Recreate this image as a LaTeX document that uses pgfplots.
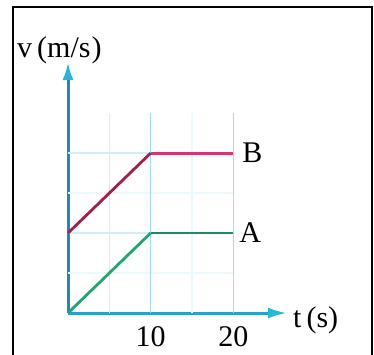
\documentclass[border=0pt]{standalone}
\usepackage{pgfplots}
\pgfplotsset{compat=1.18}
\usepackage{fontspec}
\setmainfont{Liberation Serif}
\usetikzlibrary{arrows.meta}

\definecolor{yaxiscol}{RGB}{35,135,178}
\definecolor{xaxiscol}{RGB}{40,160,212}
\definecolor{tipcol}{RGB}{38,182,214}
\definecolor{gridstrong}{RGB}{160,222,240}
\definecolor{gridlight}{RGB}{208,238,247}
\definecolor{gridfaint}{RGB}{236,248,252}
\definecolor{Brise}{RGB}{165,30,75}
\definecolor{Bflat}{RGB}{215,50,115}
\definecolor{Arise}{RGB}{30,168,112}
\definecolor{Aflat}{RGB}{28,138,100}

\newcommand{\labfont}{\fontsize{30}{34}\selectfont}

\begin{document}
\begin{tikzpicture}
\useasboundingbox (0pt,0pt) rectangle (374pt,354pt);
% frame
\draw[line width=1.6pt] (13pt,-10pt) -- (13pt,347pt) -- (372pt,347pt) -- (372pt,-10pt);
\begin{axis}[
  at={(68pt,41pt)}, anchor=south west,
  scale only axis, width=219pt, height=251pt,
  xmin=0, xmax=26.5, ymin=0, ymax=31.4,
  axis lines=left,
  axis line style={line width=3pt},
  x axis line style={draw=xaxiscol, -{Latex[length=19pt,width=11pt,fill=tipcol,color=tipcol]}},
  y axis line style={draw=yaxiscol, -{Latex[length=18pt,width=11pt,fill=tipcol,color=tipcol]}},
  xtick={10,20}, ytick=\empty,
  major tick length=0pt,
  /pgf/number format/assume math mode=true,
  xticklabel style={font=\labfont, inner sep=0pt, yshift=-13pt},
  clip=false,
]
% grid
\addplot[gridfaint, line width=1.2pt] coordinates {(15,0) (15,25)};
\addplot[gridfaint, line width=1.2pt] coordinates {(0,5) (20,5)};
\addplot[gridfaint, line width=1.2pt] coordinates {(0,15) (20,15)};
\addplot[gridlight, line width=1.4pt] coordinates {(5,0) (5,25)};
\addplot[gridlight, line width=1.4pt] coordinates {(0,10) (20,10)};
\addplot[gridlight, line width=1.4pt] coordinates {(0,20) (20,20)};
\addplot[gridstrong, line width=1.4pt] coordinates {(10,0) (10,25)};
\addplot[gridstrong, line width=1.4pt] coordinates {(20,0) (20,25)};
% velocity of B
\addplot[Brise, line width=2.8pt] coordinates {(0,10) (10,20)};
\addplot[Bflat, line width=2.8pt] coordinates {(10,20) (20,20)};
% velocity of A
\addplot[Arise, line width=2.8pt] coordinates {(0,0) (10,10)};
\addplot[Aflat, line width=2.8pt] coordinates {(10,10) (20,10)};
\node[anchor=west, inner sep=0pt, font=\labfont, xshift=9pt] at (axis cs:20,20) {B};
\node[anchor=west, inner sep=0pt, font=\labfont, xshift=6pt] at (axis cs:20,10) {A};
\end{axis}
\node[anchor=base west, inner sep=0pt, font=\labfont] at (17pt,296pt) {v\,(m/s\kern1pt)};
\node[anchor=base west, inner sep=0pt, font=\labfont] at (293pt,27pt) {t\,(s)};
\end{tikzpicture}
\end{document}
